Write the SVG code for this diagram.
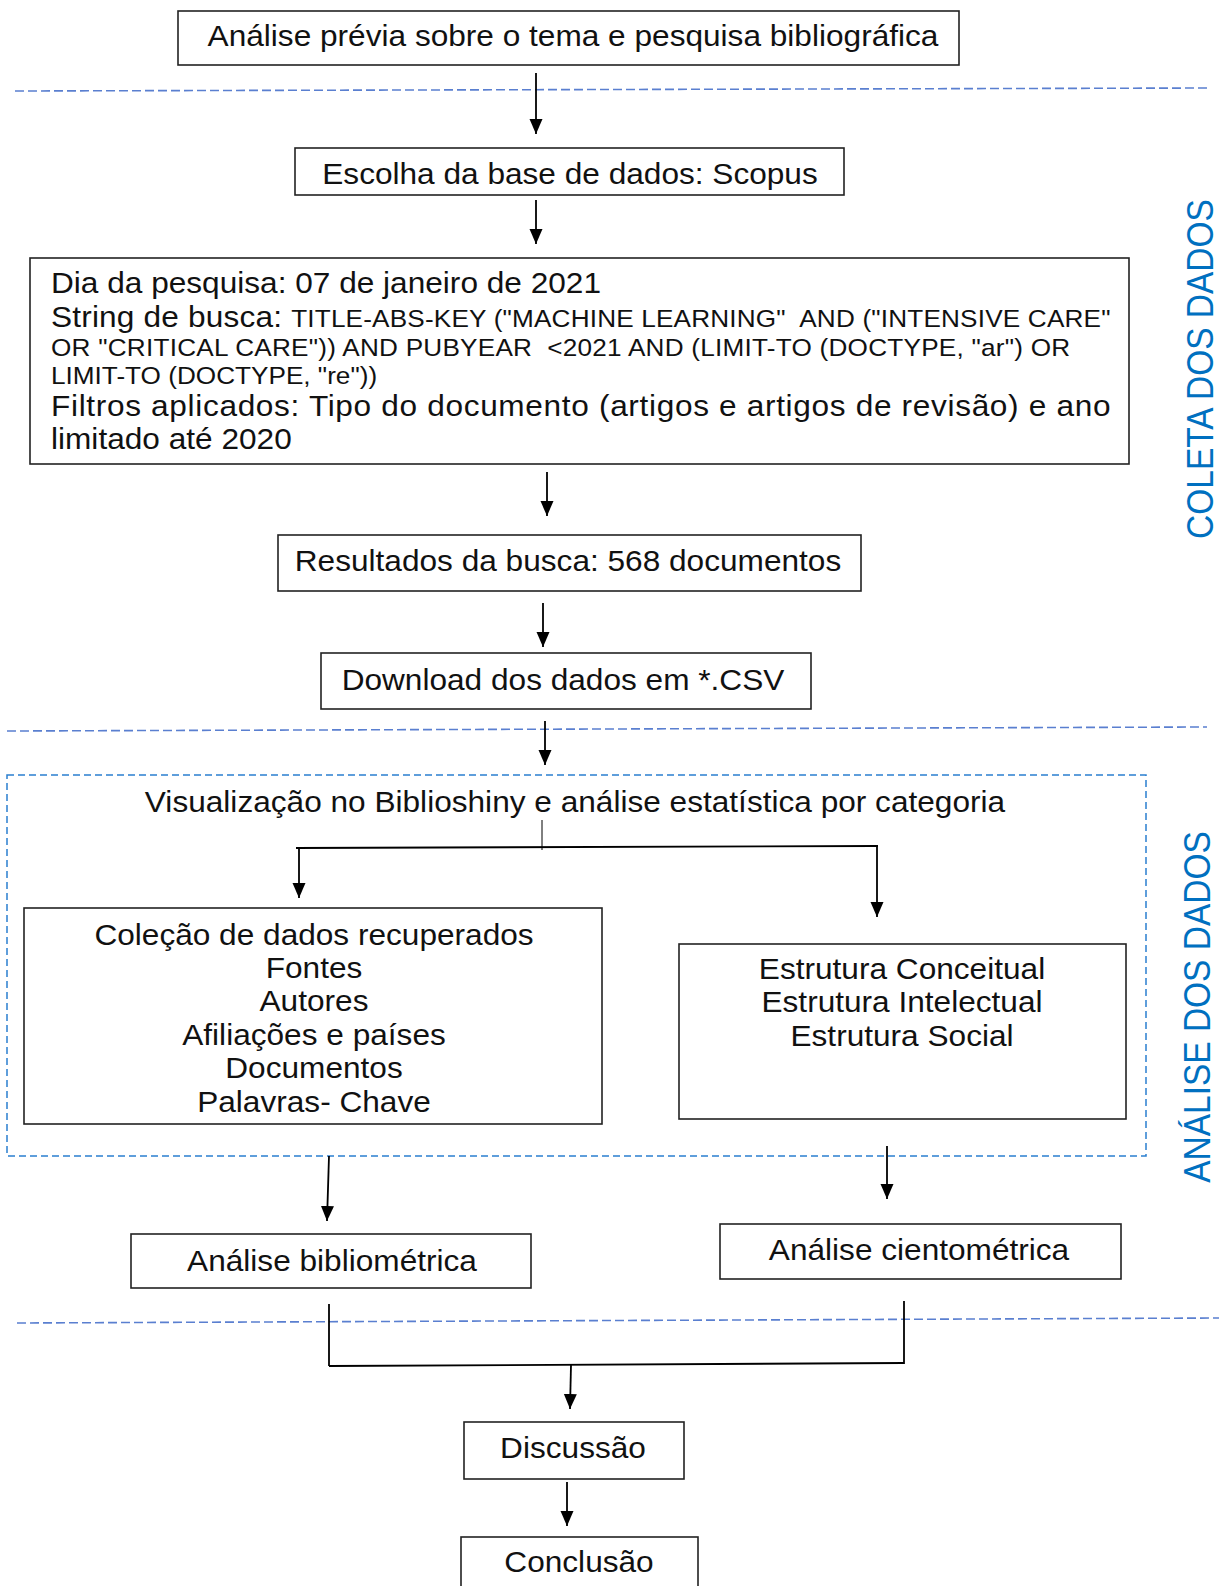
<svg xmlns="http://www.w3.org/2000/svg" width="1221" height="1586" viewBox="0 0 1221 1586">
  <defs>
    <marker id="arrow" markerUnits="userSpaceOnUse" markerWidth="17" markerHeight="14" refX="15" refY="6.5" orient="auto">
      <path d="M0,0 L15,6.5 L0,13 Z" fill="#000"/>
    </marker>
    <style>
      text { font-family: "Liberation Sans", Arial, sans-serif; fill: #111; white-space: pre; }
      .t { font-size: 29px; }
      .s { font-size: 24px; }
      .c { text-anchor: middle; }
      .side { font-size: 33.5px; fill: #0070c0; text-anchor: middle; }
      .box { fill: #fff; stroke: #222; stroke-width: 1.6; }
      .sep { fill: none; stroke: #5a7fd0; stroke-width: 1.6; stroke-dasharray: 9 4; }
      .zone { fill: none; stroke: #2a7fd0; stroke-width: 1.5; stroke-dasharray: 7 4; }
      .ln { fill: none; stroke: #000; stroke-width: 1.8; }
      .thin { fill: none; stroke: #000; stroke-width: 1; }
      .arr { fill: none; stroke: #000; stroke-width: 1.8; marker-end: url(#arrow); }
    </style>
  </defs>

  <rect width="1221" height="1586" fill="#fff"/>

  <!-- section separators and analysis zone -->
  <g id="sections">
    <line class="sep" x1="15" y1="91" x2="1211" y2="88"/>
    <line class="sep" x1="7" y1="731" x2="1207" y2="727"/>
    <line class="sep" x1="17" y1="1323" x2="1219" y2="1318"/>
    <rect class="zone" x="7" y="775" width="1139" height="381"/>
    <text class="side" transform="matrix(0,-1,1.09,0,1213,369)">COLETA DOS DADOS</text>
    <text class="side" transform="matrix(0,-1,1.09,0,1210,1007)">ANÁLISE DOS DADOS</text>
  </g>

  <!-- connectors -->
  <g id="connectors">
    <line class="arr" x1="536" y1="73" x2="536" y2="134"/>
    <line class="arr" x1="536" y1="200" x2="536" y2="244"/>
    <line class="arr" x1="547" y1="472" x2="547" y2="516"/>
    <line class="arr" x1="543" y1="603" x2="543" y2="647"/>
    <line class="arr" x1="545" y1="721" x2="545" y2="765"/>
    <line class="thin" x1="542" y1="820" x2="542" y2="850"/>
    <line class="ln" x1="296" y1="848" x2="878" y2="846"/>
    <line class="arr" x1="299" y1="849" x2="299" y2="898"/>
    <line class="arr" x1="877" y1="846" x2="877" y2="917"/>
    <line class="arr" x1="329" y1="1156" x2="327" y2="1221"/>
    <line class="arr" x1="887" y1="1146" x2="887" y2="1199"/>
    <line class="ln" x1="329" y1="1304" x2="329" y2="1366"/>
    <line class="ln" x1="904" y1="1301" x2="904" y2="1364"/>
    <line class="ln" x1="329" y1="1366" x2="904" y2="1363"/>
    <line class="arr" x1="571" y1="1365" x2="570" y2="1409"/>
    <line class="arr" x1="567" y1="1482" x2="567" y2="1526"/>
  </g>

  <!-- nodes -->
  <g id="analise-previa">
    <rect class="box" x="178" y="11" width="781" height="54"/>
    <text class="t c" transform="matrix(1.09,0,0,1,573,46)">Análise prévia sobre o tema e pesquisa bibliográfica</text>
  </g>

  <g id="base-dados">
    <rect class="box" x="295" y="148" width="549" height="47"/>
    <text class="t c" transform="matrix(1.09,0,0,1,570,184)">Escolha da base de dados: Scopus</text>
  </g>

  <g id="pesquisa">
    <rect class="box" x="30" y="258" width="1099" height="206"/>
    <text class="t" transform="matrix(1.09,0,0,1,51,293)">Dia da pesquisa: 07 de janeiro de 2021</text>
    <text class="t" transform="matrix(1.09,0,0,1,51,327)" textLength="972" lengthAdjust="spacing">String de busca: <tspan class="s">TITLE-ABS-KEY ("MACHINE LEARNING"  AND ("INTENSIVE CARE"</tspan></text>
    <text class="s" transform="matrix(1.09,0,0,1,51,356)" textLength="935" lengthAdjust="spacing">OR "CRITICAL CARE")) AND PUBYEAR  &lt;2021 AND (LIMIT-TO (DOCTYPE, "ar") OR</text>
    <text class="s" transform="matrix(1.09,0,0,1,51,384)">LIMIT-TO (DOCTYPE, "re"))</text>
    <text class="t" transform="matrix(1.09,0,0,1,51,416)" textLength="972" lengthAdjust="spacing">Filtros aplicados: Tipo do documento (artigos e artigos de revisão) e ano</text>
    <text class="t" transform="matrix(1.09,0,0,1,51,449)">limitado até 2020</text>
  </g>

  <g id="resultados">
    <rect class="box" x="278" y="535" width="583" height="56"/>
    <text class="t c" transform="matrix(1.09,0,0,1,568,571)">Resultados da busca: 568 documentos</text>
  </g>

  <g id="download">
    <rect class="box" x="321" y="653" width="490" height="56"/>
    <text class="t c" transform="matrix(1.09,0,0,1,563,690)">Download dos dados em *.CSV</text>
  </g>

  <g id="visualizacao">
    <text class="t c" transform="matrix(1.09,0,0,1,575,812)">Visualização no Biblioshiny e análise estatística por categoria</text>
  </g>

  <g id="colecao">
    <rect class="box" x="24" y="908" width="578" height="216"/>
    <text class="t c" transform="matrix(1.09,0,0,1,314,945)">Coleção de dados recuperados</text>
    <text class="t c" transform="matrix(1.09,0,0,1,314,978)">Fontes</text>
    <text class="t c" transform="matrix(1.09,0,0,1,314,1011)">Autores</text>
    <text class="t c" transform="matrix(1.09,0,0,1,314,1045)">Afiliações e países</text>
    <text class="t c" transform="matrix(1.09,0,0,1,314,1078)">Documentos</text>
    <text class="t c" transform="matrix(1.09,0,0,1,314,1112)">Palavras- Chave</text>
  </g>

  <g id="estruturas">
    <rect class="box" x="679" y="944" width="447" height="175"/>
    <text class="t c" transform="matrix(1.09,0,0,1,902,979)">Estrutura Conceitual</text>
    <text class="t c" transform="matrix(1.09,0,0,1,902,1012)">Estrutura Intelectual</text>
    <text class="t c" transform="matrix(1.09,0,0,1,902,1046)">Estrutura Social</text>
  </g>

  <g id="bibliometrica">
    <rect class="box" x="131" y="1234" width="400" height="54"/>
    <text class="t c" transform="matrix(1.09,0,0,1,332,1271)">Análise bibliométrica</text>
  </g>

  <g id="cientometrica">
    <rect class="box" x="720" y="1224" width="401" height="55"/>
    <text class="t c" transform="matrix(1.09,0,0,1,919,1260)">Análise cientométrica</text>
  </g>

  <g id="discussao">
    <rect class="box" x="464" y="1422" width="220" height="57"/>
    <text class="t c" transform="matrix(1.09,0,0,1,573,1458)">Discussão</text>
  </g>

  <g id="conclusao">
    <rect class="box" x="461" y="1537" width="237" height="60"/>
    <text class="t c" transform="matrix(1.09,0,0,1,579,1572)">Conclusão</text>
  </g>
</svg>
